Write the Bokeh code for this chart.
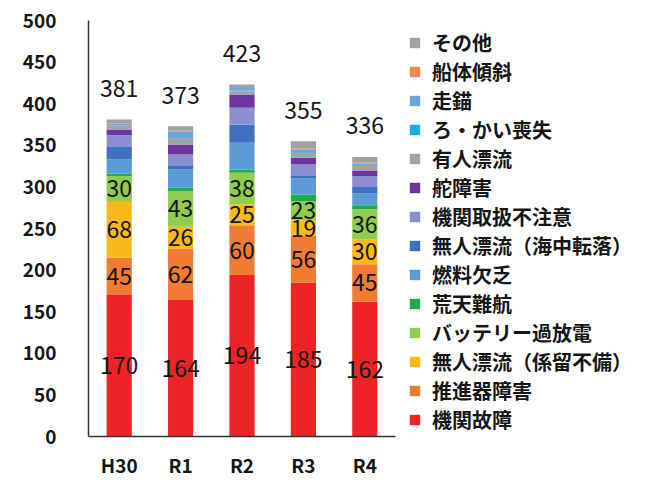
import numpy as np
from bokeh.plotting import figure
from bokeh.models import ColumnDataSource, Range1d, FixedTicker
from bokeh.core.properties import value
from bokeh.embed import file_html
from bokeh.resources import INLINE

years = ["H30", "R1", "R2", "R3", "R4"]

# stacking order: bottom -> top
series_names = [
    "機関故障",
    "推進器障害",
    "無人漂流（係留不備）",
    "バッテリー過放電",
    "荒天難航",
    "燃料欠乏",
    "無人漂流（海中転落）",
    "機関取扱不注意",
    "舵障害",
    "有人漂流",
    "ろ・かい喪失",
    "走錨",
    "船体傾斜",
    "その他",
]
series_colors = [
    "#ee2326", "#ef7c32", "#fbb919", "#8fcd4f", "#1aad4c", "#5a9ad6",
    "#3f6fc0", "#8a8fd2", "#6e35a0", "#a3a3a6", "#16aee8", "#6aa6dc",
    "#f2884e", "#9fa1a4",
]

kikan_kosho    = [170, 164, 194, 185, 162]
suishinki      = [45, 62, 60, 56, 45]
keiryu_fubi    = [68, 26, 25, 19, 30]
battery        = [30, 43, 38, 23, 36]
koten          = [3, 4, 4, 8, 5]
nenryo         = [17, 22, 32, 19, 14]
kaichu_tenraku = [15, 5, 22, 4, 8]
toriatsukai    = [14, 13, 20, 13, 13]
kaji           = [7, 12, 16, 8, 6]
yujin_hyoryu   = [5, 8, 4, 6, 6]
rokai          = [0, 1, 1, 1, 1]
sobyo          = [2, 7, 3, 3, 2]
keisha         = [0, 1, 0, 1, 1]
sonota         = [5, 5, 4, 9, 7]

totals = [381, 373, 423, 355, 336]
labeled_count = 4  # the bottom four series carry value labels

series_values = [kikan_kosho, suishinki, keiryu_fubi, battery, koten, nenryo,
                 kaichu_tenraku, toriatsukai, kaji, yujin_hyoryu, rokai,
                 sobyo, keisha, sonota]

FONT = "Noto Sans CJK JP"
TXT = "#161616"

xs = np.arange(len(years)) + 0.5
keys = [f"s{i}" for i in range(len(series_names))]
data = {"x": xs}
for k, v in zip(keys, series_values):
    data[k] = v
src = ColumnDataSource(data)

px_per_cat = 61.4
frame_w = 650 - 88
p = figure(width=650, height=480, output_backend="svg", toolbar_location=None,
           x_range=Range1d(0, frame_w / px_per_cat), y_range=Range1d(0, 500),
           min_border_left=88, min_border_right=0, min_border_top=20,
           min_border_bottom=43)
p.outline_line_color = None
p.xgrid.grid_line_color = None
p.ygrid.grid_line_color = None
p.background_fill_color = "white"
p.border_fill_color = "white"

renderers = p.vbar_stack(keys, x="x", width=0.41, color=series_colors,
                         line_color=None, source=src,
                         legend_label=series_names)

# value labels inside the bottom segments
arr = np.array(series_values, dtype=float)
cum = np.cumsum(arr, axis=0)
lab_x, lab_y, lab_t = [], [], []
for i in range(labeled_count):
    for j in range(len(years)):
        lab_x.append(xs[j])
        lab_y.append(cum[i, j] - arr[i, j] / 2)
        lab_t.append(str(int(arr[i, j])))
p.text(x=lab_x, y=lab_y, text=lab_t, text_align="center", text_baseline="middle",
       text_font=value(FONT), text_font_size="23px", text_color=TXT)

# totals above the bars
p.text(x=list(xs), y=totals, text=[str(t) for t in totals], text_align="center",
       text_baseline="middle", y_offset=-31, text_font=value(FONT),
       text_font_size="23px", text_color=TXT)

# axes
p.yaxis.ticker = FixedTicker(ticks=list(range(0, 501, 50)))
p.yaxis.major_tick_line_color = None
p.yaxis.minor_tick_line_color = None
p.yaxis.major_tick_out = 0
p.yaxis.major_label_standoff = 32
p.yaxis.axis_line_color = "#333333"
p.yaxis.axis_line_width = 1.5
p.yaxis.major_label_text_font = FONT
p.yaxis.major_label_text_font_size = "19px"
p.yaxis.major_label_text_font_style = "bold"
p.yaxis.major_label_text_color = TXT

p.xaxis.ticker = FixedTicker(ticks=list(xs))
p.xaxis.major_label_overrides = {float(x): y for x, y in zip(xs, years)}
p.xaxis.bounds = (0, len(years))
p.xaxis.major_tick_line_color = None
p.xaxis.minor_tick_line_color = None
p.xaxis.major_tick_out = 0
p.xaxis.major_label_standoff = 14
p.xaxis.axis_line_color = "#333333"
p.xaxis.axis_line_width = 1.5
p.xaxis.major_label_text_font = FONT
p.xaxis.major_label_text_font_size = "19px"
p.xaxis.major_label_text_font_style = "bold"
p.xaxis.major_label_text_color = TXT

# legend
lg = p.legend[0]
lg.items = list(reversed(lg.items))
lg.location = (320, 2)
lg.background_fill_alpha = 0
lg.border_line_color = None
lg.padding = 0
lg.margin = 0
lg.spacing = 0
lg.glyph_width = 13
lg.glyph_height = 13
lg.label_standoff = 11
lg.label_height = 20
lg.label_text_font = FONT
lg.label_text_font_size = "20px"
lg.label_text_font_style = "bold"
lg.label_text_color = TXT

open("out.html", "w").write(file_html(p, INLINE))
